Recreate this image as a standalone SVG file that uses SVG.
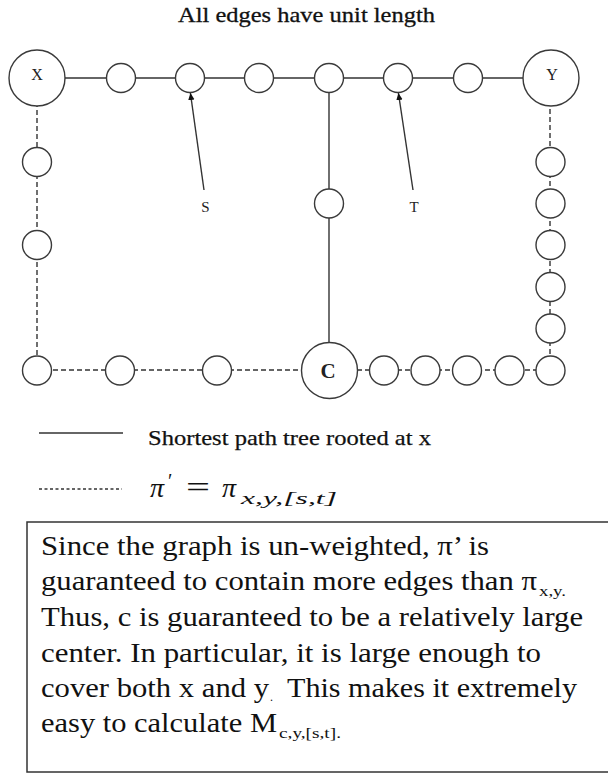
<svg xmlns="http://www.w3.org/2000/svg" width="608" height="774" viewBox="0 0 608 774" font-family="'Liberation Serif', 'Times New Roman', serif">
<style>
.n{fill:#fff;stroke:#3a3a3a;stroke-width:1.4}
.s{stroke:#333;stroke-width:1.4;fill:none}
.d{stroke:#333;stroke-width:1.4;fill:none;stroke-dasharray:5,3}
.t{fill:#111}
.lb{fill:#222;text-anchor:middle}
</style>
<defs>
<marker id="ah" markerWidth="8" markerHeight="8" refX="7" refY="4" orient="auto" markerUnits="userSpaceOnUse">
<path d="M0,0.8 L7,4 L0,7.2 Z" fill="#111"/>
</marker>
</defs>
<rect width="608" height="774" fill="#fff"/>
<text class="t" font-family="Liberation Serif" x="178" y="22" font-size="22" textLength="257" lengthAdjust="spacingAndGlyphs" stroke="#111" stroke-width="0.3">All edges have unit length</text>
<g id="connectors">
<line class="s" x1="37" y1="78" x2="551" y2="78"/>
<line class="s" x1="329" y1="78" x2="329" y2="370"/>
<line class="d" x1="37" y1="78" x2="37" y2="370"/>
<line class="d" x1="37" y1="370" x2="550" y2="370"/>
<line class="d" x1="550" y1="370" x2="550" y2="100"/>
<line class="s" x1="204" y1="190" x2="190.4" y2="93" marker-end="url(#ah)"/>
<line class="s" x1="413" y1="190" x2="398.4" y2="93" marker-end="url(#ah)"/>
</g>
<g id="node-X"><circle class="n" cx="37" cy="78" r="28"/><text class="lb" font-family="Liberation Serif" x="37" y="79.5" font-size="16">X</text></g>
<g id="node-t1"><circle class="n" cx="121" cy="78" r="14.5"/></g>
<g id="node-s"><circle class="n" cx="190" cy="78" r="14.5"/></g>
<g id="node-t3"><circle class="n" cx="259" cy="78" r="14.5"/></g>
<g id="node-t4"><circle class="n" cx="329" cy="78" r="14.5"/></g>
<g id="node-t"><circle class="n" cx="398" cy="78" r="14.5"/></g>
<g id="node-t6"><circle class="n" cx="468" cy="78" r="14.5"/></g>
<g id="node-Y"><circle class="n" cx="551" cy="78" r="28"/><text class="lb" font-family="Liberation Serif" x="552" y="79.5" font-size="16">Y</text></g>
<g id="node-m1"><circle class="n" cx="329" cy="203.5" r="14.5"/></g>
<g id="node-C"><circle class="n" cx="329.5" cy="370.5" r="28"/><text class="lb" font-family="Liberation Serif" x="328" y="377.5" font-size="21" font-weight="bold">C</text></g>
<g id="node-l1"><circle class="n" cx="37" cy="162" r="14.5"/></g>
<g id="node-l2"><circle class="n" cx="37" cy="245" r="14.5"/></g>
<g id="node-bl"><circle class="n" cx="37" cy="370.5" r="14.5"/></g>
<g id="node-b1"><circle class="n" cx="120" cy="370.5" r="14.5"/></g>
<g id="node-b2"><circle class="n" cx="217" cy="370.5" r="14.5"/></g>
<g id="node-b3"><circle class="n" cx="384" cy="370.5" r="14.5"/></g>
<g id="node-b4"><circle class="n" cx="425.5" cy="370.5" r="14.5"/></g>
<g id="node-b5"><circle class="n" cx="467" cy="370.5" r="14.5"/></g>
<g id="node-b6"><circle class="n" cx="509.5" cy="370.5" r="14.5"/></g>
<g id="node-br"><circle class="n" cx="550.5" cy="370.5" r="14.5"/></g>
<g id="node-r1"><circle class="n" cx="550.5" cy="162" r="14.5"/></g>
<g id="node-r2"><circle class="n" cx="550.5" cy="203.5" r="14.5"/></g>
<g id="node-r3"><circle class="n" cx="550.5" cy="245" r="14.5"/></g>
<g id="node-r4"><circle class="n" cx="550.5" cy="287" r="14.5"/></g>
<g id="node-r5"><circle class="n" cx="550.5" cy="328.5" r="14.5"/></g>
<text class="lb" font-family="Liberation Serif" x="205.5" y="212" font-size="15">S</text>
<text class="lb" font-family="Liberation Serif" x="414" y="212" font-size="15">T</text>
<g id="legend" font-family="Liberation Serif">
<line class="s" x1="39" y1="433" x2="123" y2="433"/>
<text class="t" x="148" y="445" font-size="22" textLength="283" lengthAdjust="spacingAndGlyphs" stroke="#111" stroke-width="0.25">Shortest path tree rooted at x</text>
<line class="s" x1="39" y1="489" x2="122" y2="489" stroke-dasharray="3,2.5" stroke-width="1.2"/>
<text class="t" x="150" y="497" font-size="28" font-style="italic">π</text>
<text class="t" x="168" y="488" font-size="20">′</text>
<text class="t" x="186" y="497" font-size="30" textLength="24" lengthAdjust="spacingAndGlyphs">=</text>
<text class="t" x="222" y="497" font-size="28" font-style="italic">π</text>
<text class="t" x="241" y="504" font-size="17" font-style="italic" textLength="96" lengthAdjust="spacingAndGlyphs">x,y,[s,t]</text>
</g>
<g id="note" font-family="Liberation Serif">
<rect x="27" y="522" width="600" height="250" fill="none" stroke="#333" stroke-width="1.5"/>
<text class="t" x="41" y="555" font-size="28" textLength="448" lengthAdjust="spacingAndGlyphs">Since the graph is un-weighted, π’ is</text>
<text class="t" x="41" y="590" font-size="28" textLength="496" lengthAdjust="spacingAndGlyphs">guaranteed to contain more edges than π</text>
<text class="t" x="539" y="596" font-size="15" textLength="27" lengthAdjust="spacingAndGlyphs">x,y.</text>
<text class="t" x="41" y="626" font-size="28" textLength="542" lengthAdjust="spacingAndGlyphs">Thus, c is guaranteed to be a relatively large</text>
<text class="t" x="41" y="661.5" font-size="28" textLength="500" lengthAdjust="spacingAndGlyphs">center. In particular, it is large enough to</text>
<text class="t" x="41" y="697" font-size="28" textLength="228" lengthAdjust="spacingAndGlyphs">cover both x and y</text>
<text class="t" x="270" y="701" font-size="12">.</text>
<text class="t" x="287" y="697" font-size="28" textLength="290" lengthAdjust="spacingAndGlyphs">This makes it extremely</text>
<text class="t" x="41" y="732" font-size="28" textLength="236" lengthAdjust="spacingAndGlyphs">easy to calculate M</text>
<text class="t" x="279" y="738" font-size="15" textLength="62" lengthAdjust="spacingAndGlyphs">c,y,[s,t].</text>
</g>
</svg>
